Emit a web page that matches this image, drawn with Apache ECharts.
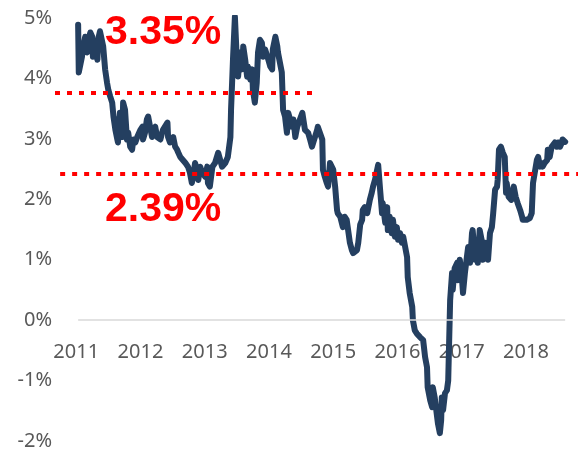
<!DOCTYPE html>
<html>
<head>
<meta charset="utf-8">
<script src="https://cdn.jsdelivr.net/npm/echarts@6/dist/echarts.min.js"></script>
<style>
  html, body { margin: 0; padding: 0; background: #fff; }
  #chart { width: 580px; height: 451px; }
</style>
</head>
<body>
<div id="chart"></div>
<script>
// decimal years
const dates = [
  2011.03, 2011.04, 2011.09, 2011.11, 2011.14, 2011.17, 2011.19, 2011.22, 2011.25, 2011.26,
  2011.30, 2011.33, 2011.34, 2011.37, 2011.40, 2011.42, 2011.45, 2011.48, 2011.50, 2011.53,
  2011.56, 2011.58, 2011.61, 2011.64, 2011.65, 2011.68, 2011.72, 2011.73, 2011.76, 2011.79,
  2011.81, 2011.84, 2011.87, 2011.89, 2011.92, 2011.95, 2012.00, 2012.03, 2012.04, 2012.07,
  2012.10, 2012.12, 2012.15, 2012.18, 2012.20, 2012.23, 2012.26, 2012.31, 2012.35, 2012.42,
  2012.43, 2012.46,
  2012.49, 2012.51, 2012.54, 2012.57, 2012.59, 2012.62, 2012.66, 2012.70, 2012.74, 2012.77,
  2012.80, 2012.82, 2012.85, 2012.88, 2012.90, 2012.93, 2012.96, 2013.01, 2013.04, 2013.05,
  2013.08, 2013.12, 2013.16, 2013.21, 2013.27, 2013.32, 2013.36, 2013.40, 2013.41, 2013.43,
  2013.44, 2013.47, 2013.50, 2013.52, 2013.55, 2013.58, 2013.60, 2013.63, 2013.66, 2013.67,
  2013.71, 2013.74, 2013.75, 2013.78, 2013.81, 2013.83, 2013.86, 2013.89, 2013.91,
  2013.94, 2013.99, 2014.02, 2014.05, 2014.06, 2014.10, 2014.13, 2014.14, 2014.20, 2014.22,
  2014.25, 2014.28, 2014.30, 2014.33, 2014.36, 2014.38, 2014.41, 2014.44, 2014.52, 2014.56,
  2014.61, 2014.64, 2014.67, 2014.75, 2014.76, 2014.83, 2014.84, 2014.87, 2014.90, 2014.92,
  2014.95, 2015.00, 2015.03, 2015.06, 2015.07, 2015.11, 2015.15, 2015.18, 2015.21, 2015.26,
  2015.29, 2015.31, 2015.37, 2015.39,
  2015.42, 2015.45, 2015.46, 2015.49, 2015.53, 2015.57, 2015.60, 2015.62, 2015.65, 2015.70,
  2015.73, 2015.76, 2015.77, 2015.81, 2015.84, 2015.85, 2015.88, 2015.91, 2015.93, 2015.96,
  2015.99, 2016.01, 2016.04, 2016.07, 2016.09, 2016.12, 2016.15, 2016.16, 2016.19, 2016.23,
  2016.24, 2016.27, 2016.30, 2016.35, 2016.40, 2016.43, 2016.46, 2016.47, 2016.51, 2016.54,
  2016.55, 2016.58, 2016.61, 2016.63, 2016.66, 2016.68, 2016.69, 2016.71, 2016.74, 2016.77,
  2016.79, 2016.82, 2016.85,
  2016.86, 2016.89, 2016.93, 2016.94, 2016.97, 2017.00, 2017.02, 2017.05, 2017.08, 2017.10,
  2017.13, 2017.16, 2017.17, 2017.21, 2017.24, 2017.25, 2017.28, 2017.31, 2017.33, 2017.36,
  2017.39, 2017.41, 2017.44, 2017.47, 2017.49, 2017.52, 2017.55, 2017.56, 2017.58, 2017.61,
  2017.64, 2017.67, 2017.69, 2017.70, 2017.73, 2017.77, 2017.80, 2017.81, 2017.84, 2017.87,
  2017.91, 2017.94, 2017.95, 2018.01, 2018.06, 2018.09, 2018.11, 2018.14, 2018.17, 2018.19,
  2018.22, 2018.25, 2018.26, 2018.29, 2018.33, 2018.34, 2018.37, 2018.40, 2018.42, 2018.45,
  2018.48, 2018.50, 2018.53, 2018.56, 2018.57, 2018.61
]

// yield, %
const yields = [
  4.89, 4.10, 4.36, 4.53, 4.69, 4.43, 4.64, 4.76, 4.69, 4.36,
  4.53, 4.31, 4.64, 4.78, 4.76, 4.53, 4.15, 3.93, 3.81, 3.70,
  3.60, 3.37, 3.15, 2.99, 2.94, 3.43, 3.03, 3.60, 3.48, 2.99,
  3.10, 2.87, 2.82, 2.99, 2.94, 3.03, 3.15, 3.20, 2.99, 3.10,
  3.32, 3.37, 3.20, 3.03, 3.15, 3.20, 3.03, 2.99, 3.15, 3.27,
  3.03, 2.94,
  2.94, 3.03, 2.87, 2.82, 2.77, 2.70, 2.65, 2.60, 2.54, 2.44,
  2.27, 2.37, 2.60, 2.49, 2.32, 2.54, 2.44, 2.37, 2.54, 2.27,
  2.21, 2.54, 2.60, 2.77, 2.54, 2.60, 2.70, 3.03, 3.48, 4.03,
  4.31, 5.02, 4.31, 4.03, 4.43, 4.15, 4.53, 4.31, 4.03, 4.20,
  3.98, 4.15, 3.81, 3.60, 3.93, 4.43, 4.64, 4.59, 4.36,
  4.48, 4.31, 4.20, 4.15, 4.48, 4.69, 4.53, 4.43, 4.10, 3.48,
  3.37, 3.10, 3.43, 3.32, 3.20, 3.32, 3.03, 3.20, 3.43, 3.15,
  3.10, 2.99, 2.87, 3.15, 3.20, 2.99, 2.49, 2.37, 2.27, 2.21,
  2.60, 2.49, 2.21, 1.82, 1.77, 1.71, 1.54, 1.71, 1.66, 1.28,
  1.16, 1.11, 1.16, 1.28,
  1.58, 1.66, 1.82, 1.87, 1.77, 1.99, 2.11, 2.21, 2.32, 2.57,
  2.16, 1.77, 1.94, 1.61, 1.87, 1.49, 1.71, 1.44, 1.66, 1.38,
  1.54, 1.33, 1.44, 1.28, 1.38, 1.21, 1.04, 0.71, 0.45, 0.22,
  0.00, -0.17, -0.22, -0.28, -0.33, -0.61, -0.78, -1.11, -1.33, -1.44,
  -1.11, -1.28, -1.54, -1.71, -1.87, -1.66, -1.28, -1.49, -1.21, -1.16,
  -1.00, 0.33, 0.78,
  0.50, 0.86, 0.95, 0.66, 1.00, 0.75, 0.45, 0.78, 1.04, 1.21,
  0.95, 1.44, 1.49, 1.00, 1.21, 0.95, 1.49, 1.33, 1.00, 1.28,
  1.24, 1.00, 1.44, 1.54, 1.77, 2.16, 2.21, 2.32, 2.82, 2.87,
  2.77, 2.70, 2.11, 2.27, 2.04, 1.99, 2.16, 2.21, 2.04, 1.94,
  1.82, 1.71, 1.66, 1.66, 1.69, 1.77, 2.27, 2.27, 2.65, 2.70,
  2.54, 2.60, 2.54, 2.60, 2.65, 2.82, 2.70, 2.87, 2.87, 2.94,
  2.87, 2.94, 2.87, 2.94, 2.99, 2.95
]

const yearTicks = [2011, 2012, 2013, 2014, 2015, 2016, 2017, 2018]
// dotted reference lines: [fromYear, toYear, level]
const upperRef = [2010.67, 2014.67, 3.76]
const lowerRef = [2010.75, 2018.81, 2.42]
const upperText = '3.35%'
const lowerText = '2.39%'

const labelFont = {
  color: '#595959',
  fontSize: 20,
  fontFamily: 'Noto Sans'
}

const chart = echarts.init(document.getElementById('chart'))

const option = {
  animation: false,
  backgroundColor: '#fff',
  grid: {
    left: 55,
    right: 2,
    top: 18,
    bottom: 10
  },
  xAxis: {
    type: 'value',
    min: 2010.67,
    max: 2018.81,
    // labels sit just under the 0% line, not at the grid bottom
    offset: -121,
    axisLine: { show: false, onZero: false },
    axisTick: { show: false },
    splitLine: { show: false },
    axisLabel: {
      ...labelFont,
      margin: 22,
      customValues: yearTicks,
      formatter: v => String(v)
    }
  },
  yAxis: {
    type: 'value',
    min: -2,
    max: 5,
    interval: 1,
    axisLine: { show: false },
    axisTick: { show: false },
    splitLine: { show: false },
    axisLabel: {
      ...labelFont,
      margin: 3,
      formatter: '{value}%'
    }
  },
  series: [
    {
      // 0% baseline
      type: 'line',
      data: [],
      z: 1,
      markLine: {
        silent: true,
        symbol: ['none', 'none'],
        label: { show: false },
        lineStyle: { color: '#d9d9d9', width: 1.5, type: 'solid' },
        data: [[{ coord: [dates[0], 0] }, { coord: [dates[dates.length - 1], 0] }]]
      }
    },
    {
      type: 'line',
      data: dates.map((d, i) => [d, yields[i]]),
      showSymbol: false,
      symbol: 'none',
      z: 2,
      lineStyle: {
        color: '#243f60',
        width: 6,
        cap: 'round',
        join: 'round'
      }
    },
    {
      // dotted reference lines
      type: 'line',
      data: [],
      z: 3,
      markLine: {
        silent: true,
        symbol: ['none', 'none'],
        label: { show: false },
        lineStyle: { color: '#ff0000', width: 4, type: [5, 7] },
        data: [
          [{ coord: [upperRef[0], upperRef[2]] }, { coord: [upperRef[1], upperRef[2]] }],
          [{ coord: [lowerRef[0], lowerRef[2]] }, { coord: [lowerRef[1], lowerRef[2]] }]
        ]
      }
    }
  ],
  graphic: [
    {
      type: 'text',
      left: 105,
      top: 12,
      z: 10,
      style: {
        text: upperText,
        fill: '#ff0000',
        font: 'bold 41px "Liberation Sans", Arial, sans-serif'
      }
    },
    {
      type: 'text',
      left: 105,
      top: 189,
      z: 10,
      style: {
        text: lowerText,
        fill: '#ff0000',
        font: 'bold 41px "Liberation Sans", Arial, sans-serif'
      }
    }
  ]
}

chart.setOption(option)
</script>
</body>
</html>
